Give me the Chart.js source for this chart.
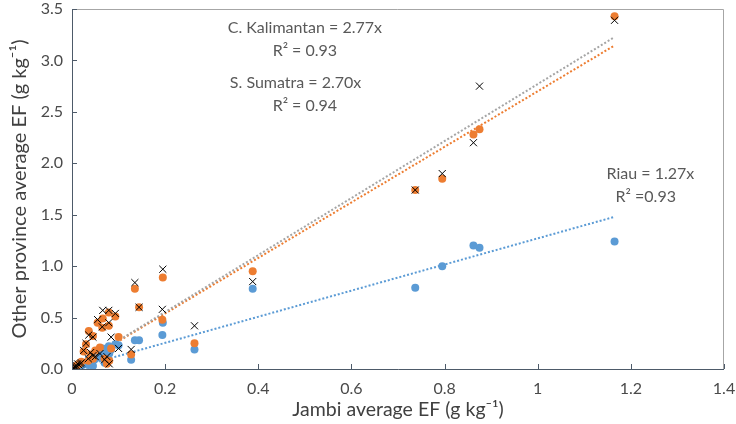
<!DOCTYPE html>
<html>
<head>
<meta charset="utf-8">
<script src="https://cdn.jsdelivr.net/npm/chart.js@4.4.1/dist/chart.umd.min.js"></script>
<style>
  html, body { margin: 0; padding: 0; background: #fff; }
  #wrap { width: 736px; height: 424px; }
</style>
</head>
<body>
<div id="wrap"><canvas id="efChart" width="736" height="424"></canvas></div>
<script>
/* =====================================
   DATA
===================================== */

const jambiEF = [1.165, 0.875, 0.862, 0.795, 0.737, 0.388, 0.263, 0.195, 0.194, 0.144, 0.135, 0.127,
    0.093, 0.079, 0.066, 0.055, 0.065, 0.079, 0.036, 0.045, 0.084, 0.100, 0.030, 0.025, 0.040, 0.050,
    0.060, 0.070, 0.075, 0.080, 0.045, 0.035, 0.020, 0.015, 0.010, 0.008, 0.005, 0.003, 0.012, 0.018,
    0.002, 0.006];

const riauEF = [1.24, 1.18, 1.20, 1.00, 0.79, 0.78, 0.19, 0.45, 0.33, 0.28, 0.28, 0.09,
    0.24, 0.22, 0.20, 0.14, 0.16, 0.18, 0.10, 0.12, 0.19, 0.23, 0.06, 0.05, 0.08, 0.10,
    0.12, 0.06, 0.08, 0.15, 0.03, 0.04, 0.03, 0.02, 0.01, 0.015, 0.005, 0.002, 0.02, 0.03,
    0.001, 0.01];

const sSumatraEF = [3.43, 2.33, 2.28, 1.85, 1.74, 0.95, 0.25, 0.89, 0.48, 0.60, 0.78, 0.14,
    0.51, 0.55, 0.49, 0.45, 0.40, 0.42, 0.37, 0.32, 0.20, 0.31, 0.24, 0.17, 0.14, 0.18,
    0.21, 0.10, 0.05, 0.08, 0.10, 0.08, 0.07, 0.05, 0.03, 0.02, 0.015, 0.01, 0.04, 0.06,
    0.005, 0.02];

const cKalimantanEF = [3.39, 2.75, 2.20, 1.90, 1.74, 0.85, 0.42, 0.97, 0.58, 0.60, 0.84, 0.19,
    0.54, 0.57, 0.57, 0.48, 0.41, 0.45, 0.33, 0.31, 0.31, 0.20, 0.25, 0.18, 0.16, 0.12,
    0.15, 0.09, 0.12, 0.05, 0.13, 0.10, 0.06, 0.04, 0.03, 0.025, 0.01, 0.008, 0.05, 0.05,
    0.004, 0.02];

// trendline slopes (y = a*x, through origin) as printed on the chart
const slopes = { riau: 1.27, sSumatra: 2.70, cKalimantan: 2.77 };

const xTicks = [0, 0.2, 0.4, 0.6, 0.8, 1, 1.2, 1.4];
const yTicks = [0, 0.5, 1, 1.5, 2, 2.5, 3, 3.5];

const equations = [
    { text: "C. Kalimantan = 2.77x", x: 0.50, y: 3.32 },
    { text: "R² = 0.93", x: 0.50, y: 3.09 },
    { text: "S. Sumatra = 2.70x", x: 0.48, y: 2.78 },
    { text: "R² = 0.94", x: 0.50, y: 2.56 },
    { text: "Riau = 1.27x", x: 1.242, y: 1.90 },
    { text: "R² =0.93", x: 1.232, y: 1.67 }
];

/* =====================================
   HELPERS
===================================== */

function points(ys) {
    return jambiEF.map((x, i) => ({ x: x, y: ys[i] }));
}

const xMax = Math.max(...jambiEF);

function trend(a) {
    return [{ x: 0, y: 0 }, { x: xMax, y: a * xMax }];
}

/* =====================================
   FRAME, INNER TICKS, EQUATIONS
===================================== */

const decorPlugin = {
    id: "decor",
    afterDraw(chart) {
        const c = chart.ctx;
        const area = chart.chartArea;
        const xs = chart.scales.x;
        const ys = chart.scales.y;

        c.save();
        // light plot-area border on top / right
        c.strokeStyle = "#a6a6a6";
        c.lineWidth = 1;
        c.beginPath();
        c.moveTo(area.left, area.top + 0.5);
        c.lineTo(area.right - 0.5, area.top + 0.5);
        c.lineTo(area.right - 0.5, area.bottom);
        c.stroke();

        // axis lines
        c.strokeStyle = "#4d5a69";
        c.beginPath();
        c.moveTo(area.left + 0.5, area.top);
        c.lineTo(area.left + 0.5, area.bottom + 0.5);
        c.lineTo(area.right, area.bottom + 0.5);
        c.stroke();

        // tick marks pointing into the plot
        c.beginPath();
        xTicks.forEach(v => {
            const px = Math.round(xs.getPixelForValue(v)) + 0.5;
            c.moveTo(px, area.bottom);
            c.lineTo(px, area.bottom - 5);
        });
        yTicks.forEach(v => {
            const py = Math.round(ys.getPixelForValue(v)) + 0.5;
            c.moveTo(area.left, py);
            c.lineTo(area.left + 5, py);
        });
        c.stroke();

        // trendline equations
        c.fillStyle = "#595959";
        c.font = "16px Lato";
        c.textAlign = "center";
        c.textBaseline = "middle";
        equations.forEach(e => {
            c.fillText(e.text, xs.getPixelForValue(e.x), ys.getPixelForValue(e.y));
        });
        c.restore();
    }
};

/* =====================================
   CHART
===================================== */

const efChart = new Chart(document.getElementById("efChart"), {
    type: "scatter",
    data: {
        datasets: [
            {
                label: "C. Kalimantan",
                data: points(cKalimantanEF),
                pointStyle: "cross",
                rotation: 45,
                pointRadius: 5,
                pointBorderWidth: 1,
                borderColor: "#000000",
                backgroundColor: "#000000"
            },
            {
                label: "S. Sumatra",
                data: points(sSumatraEF),
                pointStyle: "circle",
                pointRadius: 4,
                pointBorderWidth: 0,
                borderColor: "#ED7D31",
                backgroundColor: "#ED7D31"
            },
            {
                label: "Riau",
                data: points(riauEF),
                pointStyle: "circle",
                pointRadius: 4,
                pointBorderWidth: 0,
                borderColor: "#5B9BD5",
                backgroundColor: "#5B9BD5"
            },
            {
                type: "line",
                label: "C. Kalimantan trend",
                data: trend(slopes.cKalimantan),
                borderColor: "#A5A5A5",
                borderWidth: 2,
                borderDash: [2, 2],
                pointRadius: 0,
                fill: false
            },
            {
                type: "line",
                label: "S. Sumatra trend",
                data: trend(slopes.sSumatra),
                borderColor: "#ED7D31",
                borderWidth: 2,
                borderDash: [2, 2],
                pointRadius: 0,
                fill: false
            },
            {
                type: "line",
                label: "Riau trend",
                data: trend(slopes.riau),
                borderColor: "#5B9BD5",
                borderWidth: 2,
                borderDash: [2, 2],
                pointRadius: 0,
                fill: false
            }
        ]
    },
    options: {
        responsive: false,
        animation: false,
        layout: { padding: { top: 9, right: 12, left: 0, bottom: 0 } },
        plugins: {
            legend: { display: false },
            tooltip: { enabled: false }
        },
        scales: {
            x: {
                type: "linear",
                min: 0,
                max: 1.4,
                afterFit: s => {
                    s.height = 55;
                    s.paddingLeft = 0;
                    s.paddingRight = 0;
                },
                afterBuildTicks: s => { s.ticks = xTicks.map(v => ({ value: v })); },
                grid: { display: false, drawTicks: false },
                border: { display: false },
                ticks: {
                    padding: 10,
                    color: "#4a4a4a",
                    font: { family: "Lato", size: 16 },
                    callback: v => String(Number(v.toFixed(1)))
                },
                title: {
                    display: true,
                    text: "Jambi average EF (g kg⁻¹)",
                    color: "#404040",
                    font: { family: "Lato", size: 19.5 },
                    padding: { top: 0, bottom: 3 }
                }
            },
            y: {
                type: "linear",
                min: 0,
                max: 3.5,
                afterFit: s => {
                    s.width = 72;
                    s.paddingTop = 0;
                    s.paddingBottom = 0;
                },
                afterBuildTicks: s => { s.ticks = yTicks.map(v => ({ value: v })); },
                grid: { display: false, drawTicks: false },
                border: { display: false },
                ticks: {
                    padding: 9,
                    color: "#4a4a4a",
                    font: { family: "Lato", size: 16 },
                    callback: v => v.toFixed(1)
                },
                title: {
                    display: true,
                    text: "Other province average EF (g kg⁻¹)",
                    color: "#404040",
                    font: { family: "Lato", size: 20 },
                    padding: { top: 8, bottom: 0 }
                }
            }
        }
    },
    plugins: [decorPlugin]
});
</script>
</body>
</html>
